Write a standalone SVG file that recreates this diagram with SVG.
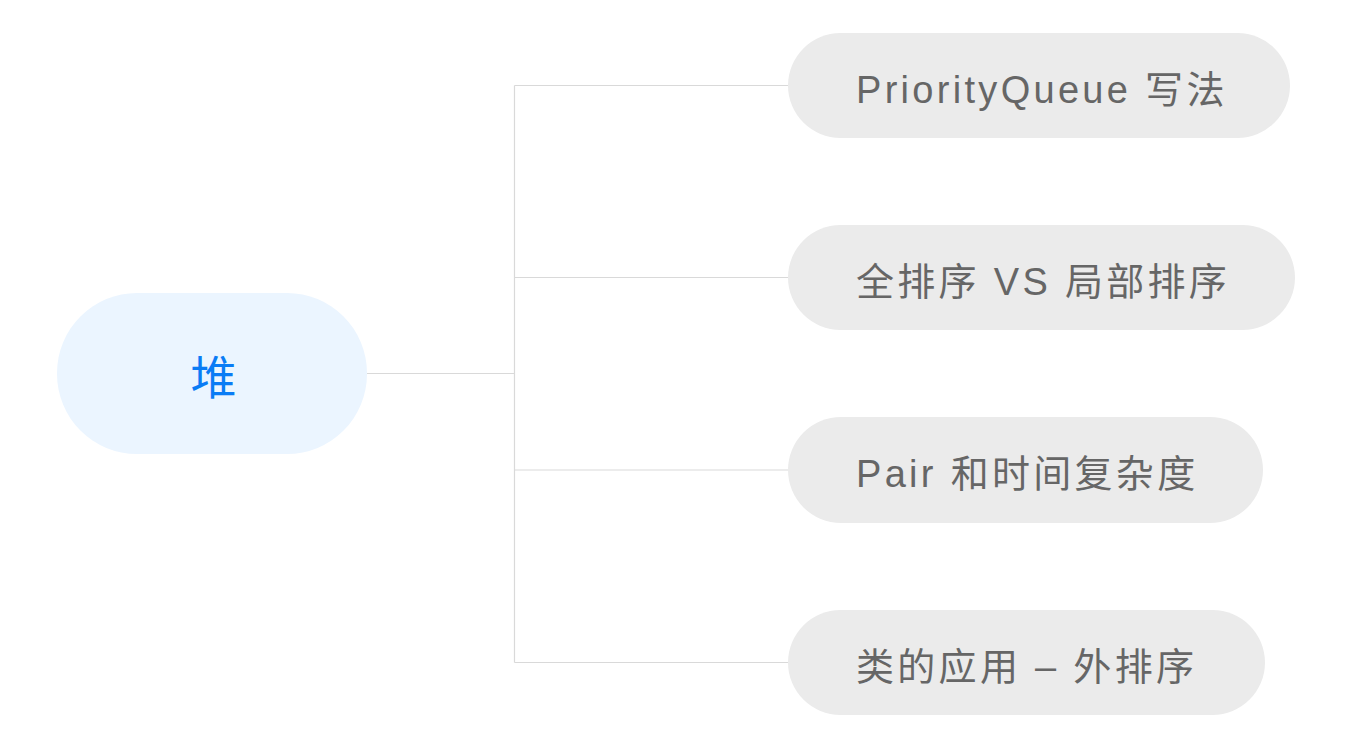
<svg xmlns="http://www.w3.org/2000/svg" width="1352" height="747" viewBox="0 0 1352 747">
<style>
.child rect{fill:#ebebeb}
.child text{fill:#666666;font-family:"Liberation Sans","Noto Sans CJK SC",sans-serif;font-size:38px;letter-spacing:3.3px}
.conn{stroke:#d9d9d9;stroke-width:1.2;fill:none}
</style>
<rect width="1352" height="747" fill="#ffffff"/>
<g id="connectors">
<path class="conn" d="M367 373.5H514.5M514.5 85.5V662.5M514.5 85.5H789M514.5 277.5H789M514.5 470H789M514.5 662.5H789"/>
</g>
<g id="root">
<rect x="57" y="293" width="310" height="161" rx="80" fill="#ebf5ff"/>
<text x="213.5" y="394" text-anchor="middle" fill="#0a7cf5" font-family="Noto Sans CJK SC,sans-serif" font-size="46">堆</text>
</g>
<g id="n1" class="child">
<rect x="788" y="33" width="502" height="105" rx="52.5"/>
<text x="856" y="102.5">PriorityQueue 写法</text>
</g>
<g id="n2" class="child">
<rect x="788" y="225" width="507" height="105" rx="52.5"/>
<text x="856" y="294.5">全排序 VS 局部排序</text>
</g>
<g id="n3" class="child">
<rect x="788" y="417" width="475" height="106" rx="53"/>
<text x="856" y="487">Pair 和时间复杂度</text>
</g>
<g id="n4" class="child">
<rect x="788" y="610" width="477" height="105" rx="52.5"/>
<text x="856" y="679.5">类的应用 – 外排序</text>
</g>
</svg>
